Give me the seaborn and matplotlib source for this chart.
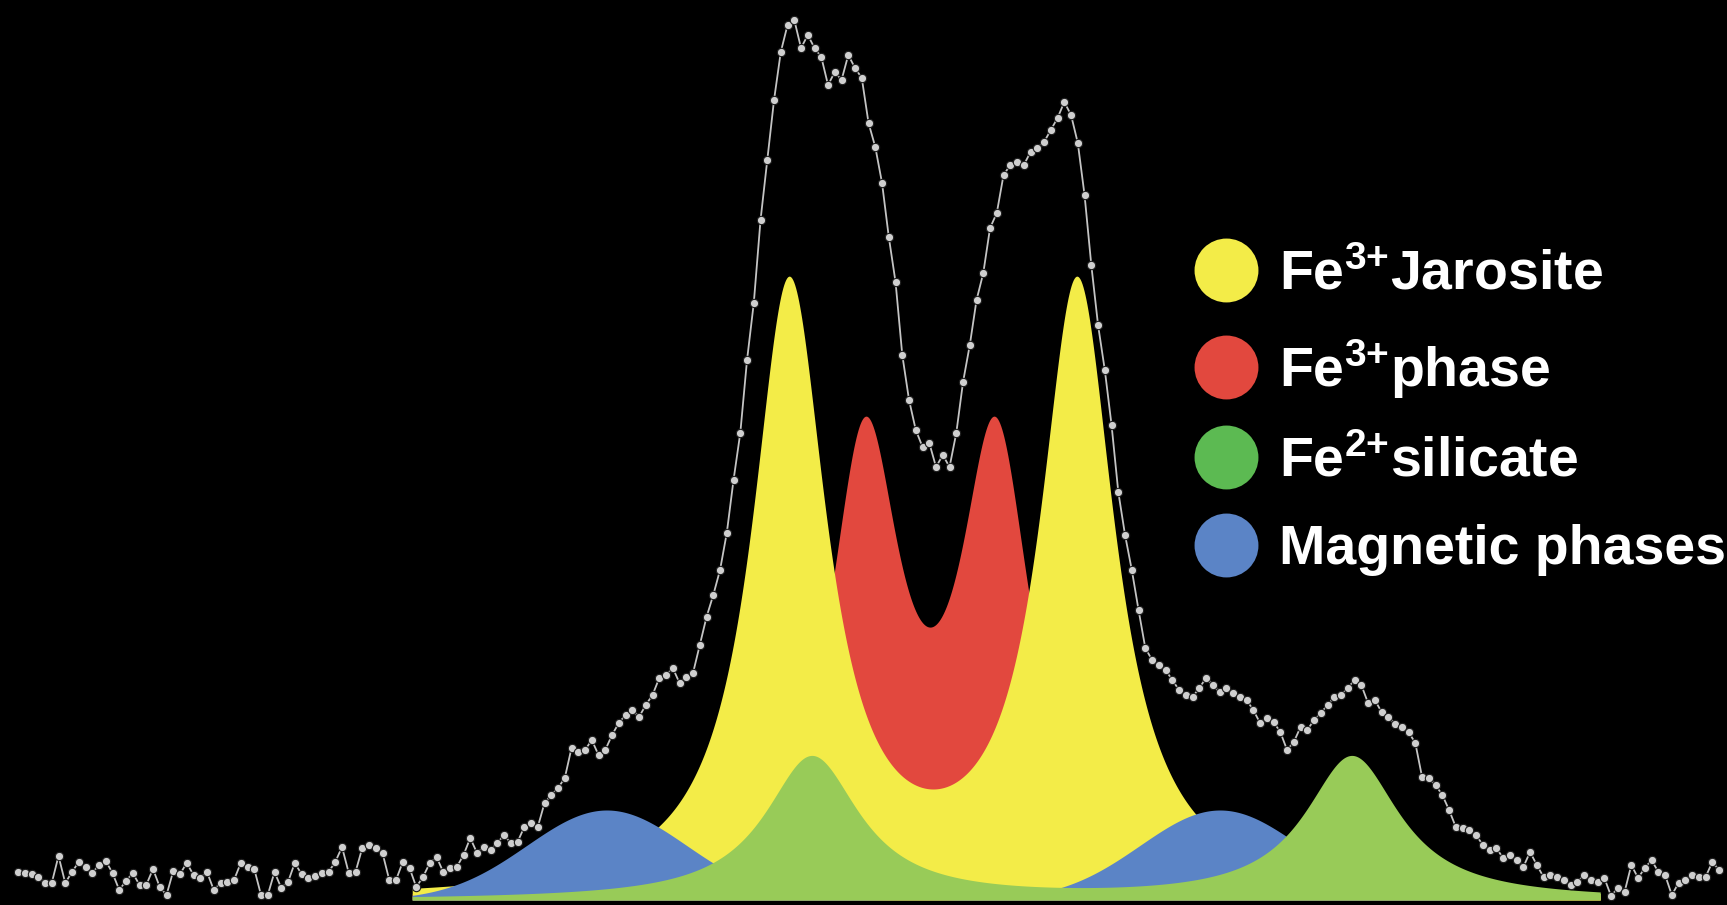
import numpy as np
import matplotlib
matplotlib.use("Agg")
import matplotlib.pyplot as plt
from matplotlib.lines import Line2D
import seaborn as sns

# measured spectrum: counts above background, one value per velocity channel
counts = [
    28, 27, 26, 23, 17, 17, 44, 17, 28, 38,
    33, 27, 35, 39, 27, 10, 19, 27, 15, 15,
    31, 13, 5, 29, 26, 37, 25, 22, 28, 10,
    17, 18, 20, 37, 33, 31, 5, 5, 28, 12,
    18, 37, 26, 22, 24, 27, 28, 38, 53, 27,
    28, 52, 55, 52, 47, 20, 20, 38, 32, 13,
    23, 37, 43, 28, 32, 33, 45, 62, 47, 53,
    50, 57, 65, 57, 58, 73, 77, 73, 97, 105,
    112, 122, 152, 148, 150, 160, 145, 150, 165, 177,
    185, 190, 183, 195, 205, 222, 225, 232, 217, 223,
    227, 255, 283, 305, 330, 367, 420, 467, 540, 597,
    680, 740, 800, 848, 875, 880, 852, 865, 852, 843,
    815, 828, 820, 845, 832, 822, 777, 753, 717, 663,
    618, 545, 500, 470, 453, 457, 433, 445, 433, 467,
    518, 555, 600, 627, 672, 687, 725, 735, 738, 735,
    748, 752, 758, 770, 782, 798, 785, 757, 705, 635,
    575, 530, 475, 408, 365, 330, 290, 252, 240, 235,
    230, 220, 210, 205, 203, 212, 222, 215, 208, 212,
    207, 203, 200, 190, 177, 182, 178, 168, 150, 158,
    173, 170, 180, 187, 195, 203, 205, 212, 220, 215,
    197, 200, 188, 183, 176, 173, 168, 157, 123, 122,
    115, 105, 90, 73, 72, 70, 65, 55, 50, 52,
    42, 45, 40, 33, 48, 35, 23, 25, 23, 20,
    15, 18, 25, 20, 18, 22, 4, 12, 8, 35,
    22, 32, 40, 28, 25, 5, 17, 20, 25, 23,
    23, 38, 30,
]
# channels are evenly spaced in velocity (mm/s)
velocity = np.linspace(-3.4425, 3.645, len(counts))

# fitted subspectra (doublets): line positions, height, half width
sites = ["Fe$^{3{+}}$Jarosite", "Fe$^{3{+}}$phase", "Fe$^{2{+}}$silicate", "Magnetic phases"]
fill_colors = ["#f3ec48", "#e2483e", "#98cb58", "#5b84c6"]
legend_colors = ["#f3ec48", "#e2483e", "#5cba52", "#5b84c6"]
line_pos = [(-0.23, 0.97), (0.085, 0.63), (-0.135, 2.115), (-0.99, 1.565)]
line_height = [609, 439, 143, 90]
line_width = [0.19, 0.183, 0.24, 0.333]
line_shape = ["lorentz", "lorentz", "lorentz", "gauss"]
fit_range = (-1.80, 3.15)


def doublet(v, k):
    out = np.zeros_like(v)
    for c in line_pos[k]:
        d = (v - c) / line_width[k]
        if line_shape[k] == "lorentz":
            out += line_height[k] / (1 + d ** 2)
        else:
            out += line_height[k] * np.exp(-0.5 * d ** 2)
    return out


sns.set_theme(style="dark", rc={"axes.facecolor": "black", "figure.facecolor": "black"})
plt.rcParams["font.family"] = ["Liberation Sans", "DejaVu Sans"]
plt.rcParams["mathtext.fontset"] = "custom"
plt.rcParams["mathtext.rm"] = "Liberation Sans:bold"
plt.rcParams["mathtext.it"] = "Liberation Sans:bold"
plt.rcParams["mathtext.bf"] = "Liberation Sans:bold"
plt.rcParams["mathtext.default"] = "rm"

fig, ax = plt.subplots(figsize=(17.27, 9.05), dpi=100)
ax.set_position([0, 0, 1, 1])

vfit = np.linspace(fit_range[0], fit_range[1], 1200)
# red behind, then yellow, blue, green on top
for z, k in enumerate([1, 0, 3, 2]):
    ax.fill_between(vfit, 0, doublet(vfit, k), color=fill_colors[k], lw=0, zorder=1 + z)

sns.lineplot(x=velocity, y=counts, ax=ax, color="#c4c4c4", lw=1.3, sort=False,
             marker="o", markersize=6, markerfacecolor="#cfcfcf",
             markeredgecolor="#1c1c1c", markeredgewidth=0.8, zorder=10)

ax.set_xlim(-3.5175, 3.678)
ax.set_ylim(-5, 900)
ax.axis("off")

handles = [Line2D([], [], marker="o", linestyle="none", markersize=46,
                  markerfacecolor=c, markeredgewidth=0) for c in legend_colors]
leg = ax.legend(handles, sites, loc="upper left", bbox_to_anchor=(0.6937, 0.724),
                frameon=False, prop={"family": "Liberation Sans", "weight": "bold", "size": 40},
                labelcolor="white", handlelength=1.0, handletextpad=0.45,
                labelspacing=0.64, borderpad=0, borderaxespad=0)
leg.set_zorder(20)

fig.savefig("out.png", dpi=100, facecolor="black")
